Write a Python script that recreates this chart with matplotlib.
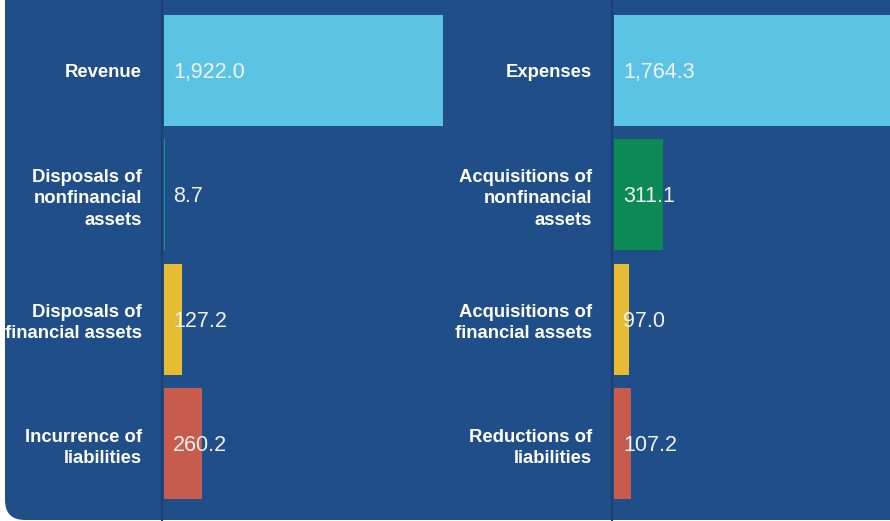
import matplotlib
matplotlib.use('Agg')
import matplotlib.pyplot as plt
from matplotlib.patches import FancyBboxPatch

plt.rcParams['font.family'] = ['Liberation Sans', 'DejaVu Sans']

# data
left_labels = ['Revenue', 'Disposals of\nnonfinancial\nassets',
               'Disposals of\nfinancial assets', 'Incurrence of\nliabilities']
left_values = [1922.0, 8.7, 127.2, 260.2]
left_colors = ['#5BC4E5', '#139E8E', '#E6BC32', '#C75B4C']

right_labels = ['Expenses', 'Acquisitions of\nnonfinancial\nassets',
                'Acquisitions of\nfinancial assets', 'Reductions of\nliabilities']
right_values = [1764.3, 311.1, 97.0, 107.2]
right_colors = ['#5BC4E5', '#0B8A53', '#E6BC32', '#C75B4C']

BG = '#1F4E89'
SPINE = '#1A3F70'
W, H = 890, 521

fig = plt.figure(figsize=(W / 100, H / 100), dpi=100)
fig.patch.set_facecolor('white')

# rounded blue panel behind everything
panel = FancyBboxPatch((0.05, 0.01), 9.5, 5.6,
                       boxstyle='round,pad=0,rounding_size=0.2',
                       transform=fig.dpi_scale_trans,
                       facecolor=BG, edgecolor='none', zorder=0)
fig.add_artist(panel)


def draw_panel(x0, width, labels, values, colors):
    ax = fig.add_axes([x0 / W, 0, width / W, 519 / H])
    ax.set_facecolor('none')
    pos = list(range(len(values)))
    ax.barh(pos, values, height=0.893, color=colors, zorder=2)
    vmax = max(values)
    # leave a 2px gap between the axis line and the bars
    ax.set_xlim(-vmax * 2 / (width - 2), vmax)
    ax.set_ylim(3.623, -0.551)
    for s in ['top', 'right', 'bottom']:
        ax.spines[s].set_visible(False)
    ax.spines['left'].set_color(SPINE)
    ax.spines['left'].set_linewidth(1.5)
    ax.spines['left'].set_zorder(3)
    ax.set_xticks([])
    ax.set_yticks(pos)
    ax.set_yticklabels(labels, fontsize=13.3, fontweight='bold', color='white')
    ax.tick_params(axis='y', length=0, pad=14.5)
    for t in ax.get_yticklabels():
        t.set_linespacing(1.32)
        t.set_multialignment('right')
    for p, v in zip(pos, values):
        ax.annotate(f'{v:,.1f}', xy=(0, p), xytext=(9, -2),
                    textcoords='offset pixels', ha='left', va='center',
                    fontsize=15.5, color='#F2F2F2', zorder=4)
    return ax


draw_panel(162, 281, left_labels, left_values, left_colors)
draw_panel(612, 282, right_labels, right_values, right_colors)

fig.savefig('out.png', dpi=100, facecolor='white')
